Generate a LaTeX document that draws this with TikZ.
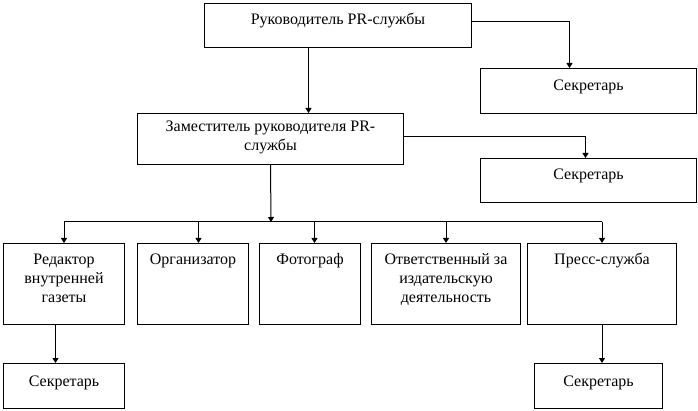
\documentclass[tikz,border=0pt]{standalone}
\usepackage{fontspec}
\setmainfont{Liberation Serif}
\usetikzlibrary{arrows.meta}
% text of a box sits at its top, as in the scanned chart
\newcommand{\boxtxt}[4][7.5pt]{\parbox[c][#3pt][t]{#2pt}{\centering\vspace*{#1}\strut #4\par}}

\begin{document}
\begin{tikzpicture}[x=1pt, y=-1pt, line width=1pt,
  box/.style={draw, inner sep=0pt, anchor=north west, font=\fontsize{16}{19}\selectfont},
  arr/.style={-{Triangle[width=6pt,length=5pt]}}]%PR structure
\useasboundingbox (0,0) rectangle (698,411);
  \node[box] (head) at (204,3) {\boxtxt{267}{44}{Руководитель PR-службы}};
  \node[box] (sec1) at (480,68) {\boxtxt[9pt]{216}{45}{Секретарь}};
  \node[box] (dep) at (137,113) {\boxtxt[5pt]{266}{51}{Заместитель руководителя PR-\\службы}};
  \node[box] (sec2) at (480,158) {\boxtxt[8pt]{216}{44}{Секретарь}};
%  bottom row
  \node[box] (edit) at (3,243) {\boxtxt{121}{81}{Редактор\\внутренней\\газеты}};
  \node[box] (org) at (137,243) {\boxtxt{111}{81}{Организатор}};
  \node[box] (photo) at (259,243) {\boxtxt{101}{81}{Фотограф}};
  \node[box] (pub) at (371,243) {\boxtxt{149}{81}{Ответственный за\\издательскую\\деятельность}};
  \node[box] (press) at (527,243) {\boxtxt{149}{81}{Пресс-служба}};
  \node[box] (sec3) at (3,363) {\boxtxt[10pt]{121}{45}{Секретарь}};
  \node[box] (sec4) at (534,363) {\boxtxt[10pt]{128}{45}{Секретарь}};
  \coordinate (bus) at (271,222);
%  connectors
  \draw[arr] ([yshift=4pt]head.east) -| ([xshift=-19pt]sec1.north);
  \draw[arr] ([xshift=-29.5pt]head.south) -- ([xshift=-29.5pt]head.south |- dep.north);
  \draw[arr] ([yshift=2.5pt]dep.east) -| ([xshift=-3pt]sec2.north);
  \draw[arr] (dep.south) -- (bus);
  \draw (edit.north |- bus) -- (press.north |- bus);
  \draw[arr] (edit.north |- bus) -- (edit.north);
  \draw[arr] ([xshift=5.5pt]org.north |- bus) -- ([xshift=5.5pt]org.north);
  \draw[arr] ([xshift=4.5pt]photo.north |- bus) -- ([xshift=4.5pt]photo.north);
  \draw[arr] (pub.north |- bus) -- (pub.north);
  \draw[arr] (press.north |- bus) -- (press.north);
  \draw[arr] ([xshift=-8.5pt]edit.south) -- ([xshift=-8.5pt]edit.south |- sec3.north);
  \draw[arr] (press.south) -- (press.south |- sec4.north);
\end{tikzpicture}
\end{document}
